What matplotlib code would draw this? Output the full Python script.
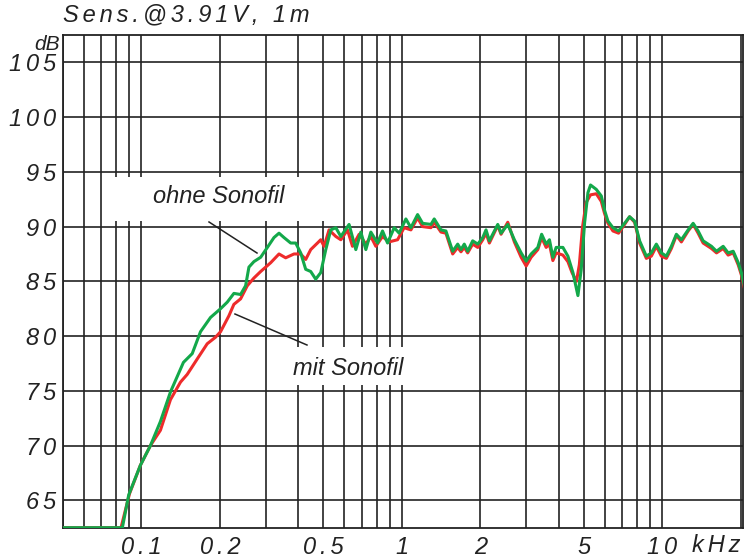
import matplotlib
matplotlib.use("Agg")
import matplotlib.pyplot as plt
from matplotlib.patches import Rectangle

# Data, frequency in kHz, level in dB
freq_ohne = [0.05, 0.0845, 0.0894, 0.0991, 0.1083, 0.1183, 0.1293, 0.145, 0.1567, 0.1686,
             0.1842, 0.2013, 0.2136, 0.2265, 0.2403, 0.2512, 0.2587, 0.2703, 0.287, 0.3045,
             0.3228, 0.3375, 0.3527, 0.3742, 0.3911, 0.4088, 0.4273, 0.4467, 0.4669, 0.4881,
             0.5103, 0.5334, 0.5576, 0.5829, 0.627, 0.6655, 0.6957, 0.7272, 0.7601, 0.8064,
             0.8428, 0.8811, 0.9342, 0.9763, 1.036, 1.083, 1.149, 1.201, 1.293, 1.331,
             1.413, 1.476, 1.567, 1.638, 1.686, 1.736, 1.789, 1.87, 1.956, 2.044,
             2.104, 2.167, 2.334, 2.403, 2.55, 2.703, 2.87, 3.0, 3.135, 3.326,
             3.44, 3.58, 3.686, 3.799, 3.911, 4.151, 4.339, 4.536, 4.741, 4.882,
             5.027, 5.18, 5.3, 5.576, 5.829, 5.999, 6.183, 6.462, 6.79, 7.161,
             7.485, 7.825, 8.179, 8.68, 9.072, 9.483, 9.912, 10.36, 10.83, 11.32,
             11.83, 12.56, 13.13, 13.72, 14.34, 15.44, 16.14, 17.12, 17.89, 18.71,
             19.56, 20.1, 20.6]
db_ohne = [62.5, 62.5, 65.5, 68.2, 70.0, 72.2, 74.9, 77.6, 78.4, 80.4,
           81.7, 82.5, 83.1, 83.9, 83.8, 84.6, 86.3, 86.8, 87.2, 88.1,
           89.0, 89.4, 89.0, 88.5, 88.5, 87.6, 86.1, 85.9, 85.2, 85.8,
           87.9, 89.7, 89.9, 89.1, 90.2, 87.9, 89.5, 87.9, 89.5, 88.5,
           89.6, 88.5, 89.9, 89.4, 90.7, 89.9, 91.1, 90.3, 90.2, 90.7,
           89.7, 89.6, 87.75, 88.4, 87.9, 88.4, 87.75, 88.7, 88.4, 89.0,
           89.7, 88.7, 90.2, 89.4, 90.2, 88.8, 87.6, 86.85, 87.5, 88.1,
           89.3, 88.4, 88.8, 87.2, 88.1, 88.1, 87.3, 85.8, 83.7, 86.1,
           90.3, 93.1, 93.8, 93.4, 92.8, 91.5, 90.5, 89.9, 89.6, 90.3,
           90.9, 90.5, 88.7, 87.3, 87.6, 88.4, 87.6, 87.3, 88.2, 89.3,
           88.8, 89.7, 90.3, 89.6, 88.7, 88.2, 87.75, 88.2, 87.6, 87.75,
           86.7, 85.8, 84.7]

freq_mit = [0.05, 0.0835, 0.09, 0.0991, 0.1083, 0.1183, 0.1293, 0.1413, 0.1499, 0.1637,
            0.1789, 0.1926, 0.2013, 0.2167, 0.2265, 0.2403, 0.255, 0.2703, 0.287, 0.3135,
            0.3375, 0.358, 0.3853, 0.4088, 0.4273, 0.4467, 0.4741, 0.4881, 0.5027, 0.5253,
            0.5576, 0.5829, 0.6183, 0.6462, 0.6853, 0.7272, 0.7601, 0.7943, 0.8428, 0.891,
            0.9627, 1.02, 1.083, 1.149, 1.201, 1.293, 1.331, 1.413, 1.476, 1.567,
            1.638, 1.686, 1.736, 1.789, 1.87, 1.956, 2.044, 2.104, 2.167, 2.334,
            2.403, 2.55, 2.703, 2.87, 3.0, 3.135, 3.326, 3.44, 3.58, 3.686,
            3.799, 3.911, 4.151, 4.339, 4.5, 4.68, 4.8, 4.94, 5.1, 5.3,
            5.576, 5.829, 5.999, 6.183, 6.462, 6.79, 7.161, 7.485, 7.825, 8.179,
            8.68, 9.072, 9.483, 9.912, 10.36, 10.83, 11.32, 11.83, 12.56, 13.13,
            13.72, 14.34, 15.44, 16.14, 17.12, 17.89, 18.71, 19.56, 20.1, 20.6]
db_mit = [62.5, 62.5, 65.6, 68.2, 70.0, 71.4, 74.2, 75.8, 76.5, 77.9,
          79.3, 79.9, 80.4, 81.85, 82.9, 83.4, 84.6, 85.3, 85.9, 86.7,
          87.5, 87.15, 87.5, 87.5, 87.0, 87.9, 88.5, 88.8, 88.2, 89.7,
          89.1, 88.8, 89.7, 88.2, 89.3, 88.4, 89.1, 88.2, 89.1, 88.6,
          88.8, 89.9, 89.7, 90.8, 90.0, 89.9, 90.4, 89.5, 89.4, 87.5,
          88.1, 87.7, 88.1, 87.6, 88.4, 88.1, 88.8, 89.4, 88.5, 90.1,
          89.3, 90.4, 88.6, 87.2, 86.4, 87.2, 87.9, 89.0, 88.1, 88.4,
          86.9, 87.6, 87.4, 86.8, 85.8, 85.0, 86.5, 90.0, 92.2, 92.9,
          93.0, 92.3, 91.2, 90.3, 89.6, 89.4, 90.2, 90.9, 90.4, 88.5,
          87.1, 87.3, 88.2, 87.3, 87.1, 88.0, 89.2, 88.6, 89.6, 90.2,
          89.4, 88.5, 88.0, 87.6, 88.0, 87.4, 87.6, 86.5, 85.6, 84.5]

x_major = [0.1, 0.2, 0.5, 1, 2, 5, 10]
x_minor = [0.05, 0.06, 0.07, 0.08, 0.09, 0.3, 0.4, 0.6, 0.7, 0.8, 0.9,
           3, 4, 6, 7, 8, 9, 20]
x_labels = ["0.1", "0.2", "0.5", "1", "2", "5", "10"]
y_ticks = [65, 70, 75, 80, 85, 90, 95, 100, 105]

plt.rcParams['font.family'] = ['Liberation Sans', 'DejaVu Sans']
plt.rcParams['font.style'] = 'italic'

def spaced(s):
    # the original uses wide letter spacing
    return '\u2006'.join(s)

ink = '#222222'

fig = plt.figure(figsize=(7.45, 5.6), dpi=100)
ax = fig.add_axes([63 / 745, 32.3 / 560, 680 / 745, 492.7 / 560])

ax.set_xscale('log')
ax.set_xlim(0.05, 20.4)
ax.set_ylim(62.5, 107.5)

ax.set_xticks(x_major)
ax.set_xticklabels([spaced(s) for s in x_labels])
ax.set_xticks(x_minor, minor=True)
ax.set_xticklabels([], minor=True)
ax.set_yticks(y_ticks)
ax.set_yticklabels([spaced(str(v)) for v in y_ticks])
ax.tick_params(which='both', length=0, labelsize=17, colors=ink)
ax.tick_params(axis='y', pad=5)
ax.tick_params(axis='x', pad=6)
ax.grid(which='both', color=ink, lw=1.2)
ax.set_axisbelow(True)
for sp in ax.spines.values():
    sp.set_color(ink)
    sp.set_linewidth(1.3)

# white label boxes
ax.add_patch(Rectangle((0.066, 0.6225), 0.334, 0.09, transform=ax.transAxes,
                       facecolor='white', edgecolor='none', zorder=1.5))
ax.add_patch(Rectangle((0.312, 0.29), 0.22, 0.077, transform=ax.transAxes,
                       facecolor='white', edgecolor='none', zorder=1.5))

ax.plot(freq_mit, db_mit, color='#ee2b2b', lw=2.2, zorder=3)
ax.plot(freq_ohne, db_ohne, color='#13a84a', lw=2.2, zorder=4)

ax.text(0.229, 0.673, 'ohne Sonofil', transform=ax.transAxes, fontsize=17,
        ha='center', va='center', color=ink, zorder=5)
ax.text(0.42, 0.324, 'mit Sonofil', transform=ax.transAxes, fontsize=17,
        ha='center', va='center', color=ink, zorder=5)
ax.plot([0.2147, 0.2853], [0.6205, 0.5575], transform=ax.transAxes, color=ink, lw=1.1, zorder=5)
ax.plot([0.2529, 0.3588], [0.4337, 0.3708], transform=ax.transAxes, color=ink, lw=1.1, zorder=5)

fig.text(63 / 745, 1 - 15 / 560, spaced('Sens.@3.91V, 1m'), fontsize=17,
         ha='left', va='center', color=ink)
fig.text(47 / 745, 1 - 44 / 560, 'dB', fontsize=15, ha='center', va='center', color=ink)
fig.text(741 / 745, 1 - 545 / 560, spaced('kHz'), fontsize=17, ha='right', va='center', color=ink)

fig.savefig('out.png', dpi=100)
